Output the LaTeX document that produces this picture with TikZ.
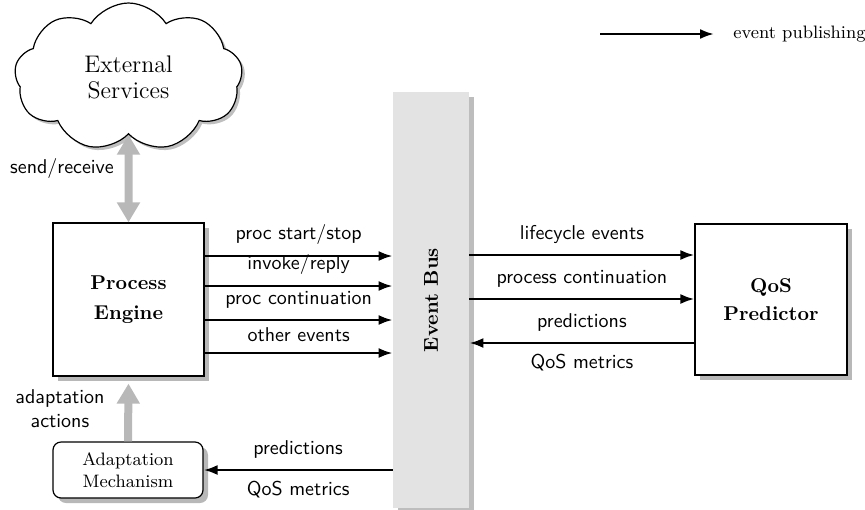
\documentclass[tikz,border=0pt]{standalone}
\usetikzlibrary{shapes.symbols,shadows,arrows.meta,calc}
\begin{document}
\begin{tikzpicture}[x=0.5pt,y=-0.5pt,
  shad/.style={drop shadow={shadow xshift=2.5pt,shadow yshift=-2.5pt,fill=black!28,opacity=1}},
  blockbox/.style={draw,line width=0.6pt,fill=white,shad,align=center,inner sep=2pt},
  evarrow/.style={line width=1.2pt,-{Latex[length=7pt,width=5pt]}},
  grayarrow/.style={draw=black!28,line width=4pt,{Triangle[length=10pt,width=11pt]}-{Triangle[length=10pt,width=11pt]}},
  grayup/.style={draw=black!28,line width=4pt,-{Triangle[length=10pt,width=11pt]}},
  lbl/.style={font=\sffamily,inner sep=2pt}]
\useasboundingbox (0,0) rectangle (865,509);

% nodes
\node[cloud,draw,line width=0.6pt,fill=white,
  drop shadow={shadow xshift=1.5pt,shadow yshift=-1.5pt,fill=black!25,opacity=1},
  cloud puffs=9,cloud puff arc=115,aspect=1.8,shape border rotate=90,
  minimum width=114pt,minimum height=74pt,align=center,font=\large,inner sep=0pt] (ext) at (128.5,77) {External\\[-1pt]Services};
\node[blockbox,minimum width=75.5pt,minimum height=76.5pt,font=\bfseries] (pe) at (128.5,299.5) {Process\\[3pt]Engine};
\node[blockbox,minimum width=76pt,minimum height=75.5pt,font=\bfseries] (qos) at (771,299.5) {QoS\\[2pt]Predictor};
\node[blockbox,rounded corners=4pt,minimum width=75pt,minimum height=28pt,font=\small] (am) at (128,470) {Adaptation\\Mechanism};
\node[fill=black!11,minimum width=38pt,minimum height=208pt,inner sep=0pt,
  drop shadow={shadow xshift=2.5pt,shadow yshift=-2.5pt,fill=black!26,opacity=1}] (bus) at (431,300) {};
\node[rotate=90,font=\bfseries] (bustext) at (bus.center) {Event Bus};

% gray arrows
\draw[grayarrow] (ext.south) -- (pe.north);
\node[lbl,anchor=center] (sr) at (62,168) {send/receive};
\draw[grayup] (am.north) -- ($(pe.south)+(0,7)$);
\node[lbl,align=center] (aa) at (60,409) {adaptation\\actions};

% process engine -> bus
\draw[evarrow] (pe.east |- 0,256) -- node[lbl,above=3pt] (l1) {proc start/stop} (bus.west |- 0,256);
\draw[evarrow] (pe.east |- 0,286) -- node[lbl,above=3pt] (l2) {invoke/reply} (bus.west |- 0,286);
\draw[evarrow] (pe.east |- 0,320) -- node[lbl,above=3pt] (l3) {proc continuation} (bus.west |- 0,320);
\draw[evarrow] (pe.east |- 0,353) -- node[lbl,above=3pt] (l4) {other events} (bus.west |- 0,353);

% bus <-> qos
\draw[evarrow] (bus.east |- 0,255) -- node[lbl,above=3pt] (r1) {lifecycle events} (qos.west |- 0,255);
\draw[evarrow] (bus.east |- 0,299) -- node[lbl,above=3pt] (r2) {process continuation} (qos.west |- 0,299);
\draw[evarrow] (qos.west |- 0,343) -- node[lbl,above=3pt] (r3) {predictions} node[lbl,below=3pt] (r4) {QoS metrics} (bus.east |- 0,343);

% bus -> adaptation
\draw[evarrow] (bus.west |- am.east) -- node[lbl,above=3pt] (a1) {predictions} node[lbl,below=3pt] (a2) {QoS metrics} (am.east);

% legend
\coordinate (lg1) at (600,34);
\coordinate (lg2) at (714,34);
\draw[evarrow] (lg1) -- (lg2);
\node[anchor=west,font=\small,inner sep=0pt] (lgt) at (733,34) {event publishing};
\end{tikzpicture}
\end{document}
